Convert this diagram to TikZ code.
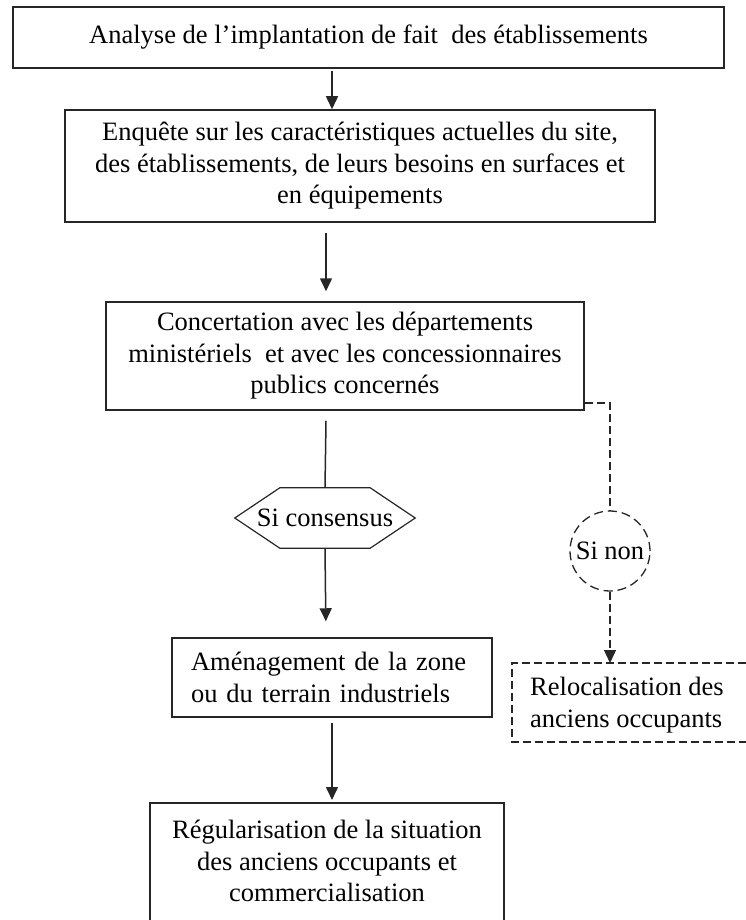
\documentclass[tikz,border=0pt]{standalone}
\usepackage{fontspec}
\setmainfont{Liberation Serif}
\usetikzlibrary{arrows.meta,calc}
\begin{document}
\begin{tikzpicture}[x=1pt,y=-1pt,
  font=\fontsize{26.5}{31.5}\selectfont,
  box/.style={draw=black!85, line width=1.5pt, inner sep=0pt, align=center},
  txt/.style={inner sep=0pt},
  ln/.style={draw=black!85, line width=1.5pt},
  arr/.style={ln, -{Triangle[width=12pt,length=13pt]}},
  dsh/.style={draw=black!85, line width=1.3pt, dash pattern=on 8pt off 4pt}]
\useasboundingbox (0,0) rectangle (746,920);
\clip (0,0) rectangle (746,920);

\node[box, minimum width=711, minimum height=61] (b1) at (368.5,37.5)
  {Analyse de l’implantation de fait\ \ des établissements};
\node[box, minimum width=590, minimum height=112] (b2) at (360,166)
  {Enquête sur les caractéristiques actuelles du site,\\des établissements, de leurs besoins en surfaces et\\en équipements};
\node[box, minimum width=478, minimum height=108] (b3) at (345,356)
  {Concertation avec les départements\\ministériels\ \ et avec les concessionnaires\\publics concernés};
\node[txt, minimum width=180, minimum height=60] (hex) at (325,518) {Si consensus};
\draw[ln, line width=1.2pt] (hex.west) -- ($(hex.north west)+(45,0)$) -- ($(hex.north east)+(-45,0)$)
  -- (hex.east) -- ($(hex.south east)+(-45,0)$) -- ($(hex.south west)+(45,0)$) -- cycle;
\node[circle, dsh, dash pattern=on 9pt off 5pt, minimum size=80, inner sep=0pt] (cir) at (610,551) {Si non};
\node[box, minimum width=320, minimum height=79, align=left, text width=282] (b4) at (332,677.5)
  {Aménagement de la zone\\ou du terrain industriels};
\node[txt, align=center] (b5) at (327,861)
  {Régularisation de la situation\\des anciens occupants et\\commercialisation};
\draw[ln] (150,940) -- (150,803) -- (504,803) -- (504,940);
\coordinate (b5top) at (332,803);
\node[txt, align=left, anchor=west] (b6) at (530,705) {Relocalisation des\\anciens occupants};
\draw[dsh] (770,663) -- (512,663) -- (512,742) -- (770,742);
\coordinate (b6top) at (610,663);

\draw[arr] ([xshift=-36.5pt,yshift=-2pt]b1.south) -- ([xshift=-28pt]b2.north);
\draw[arr, shorten >=10pt] ([xshift=-34pt,yshift=-10pt]b2.south) -- ([xshift=-19pt]b3.north);
\draw[ln] ([xshift=-19pt,yshift=-10pt]b3.south) -- (hex.north);
\draw[arr, shorten >=16pt] (hex.south) -- ([xshift=-6pt]b4.north);
\draw[arr, shorten >=3pt] ([yshift=-5pt]b4.south) -- (b5top);
\draw[dsh] ([yshift=-47pt]b3.east) -| (cir.north);
\draw[dsh, -{Triangle[width=12pt,length=13pt]}] (cir.south) -- (b6top);
\end{tikzpicture}
\end{document}
